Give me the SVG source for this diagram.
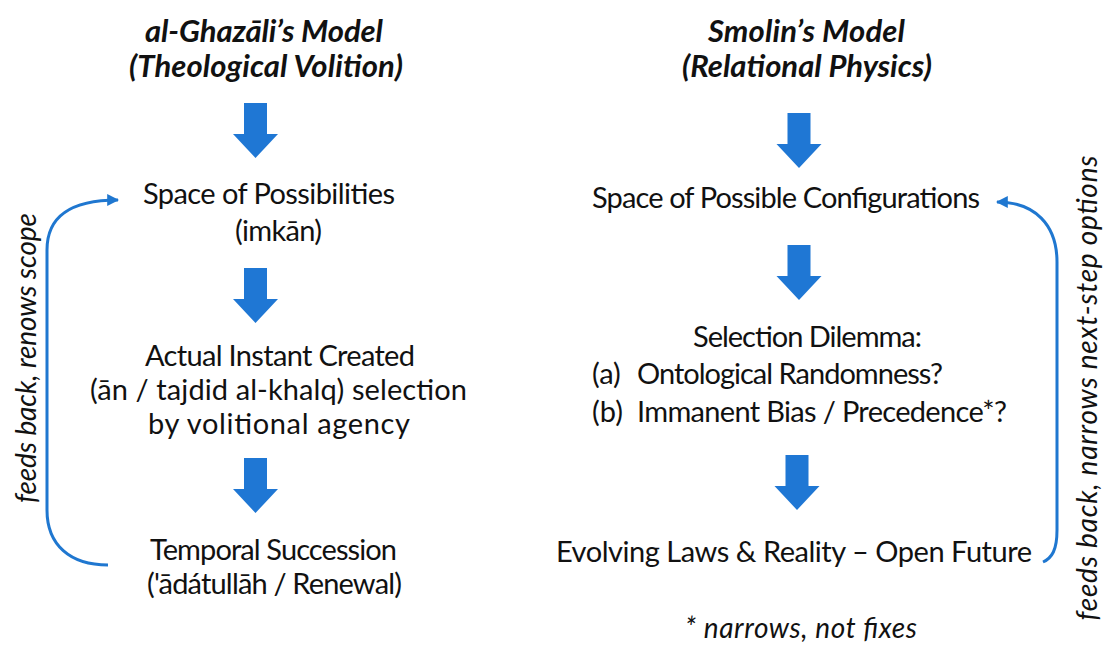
<svg xmlns="http://www.w3.org/2000/svg" width="1106" height="646" viewBox="0 0 1106 646">
  <style>
    .t { font-family: Lato, "Liberation Sans", sans-serif; fill: #111; }
    .body { font-size: 29px; }
    .title { font-size: 31px; font-weight: bold; font-style: italic; }
    .note { font-size: 28px; font-style: italic; }
    .mid { text-anchor: middle; }
    .loop { fill: none; stroke: #1F77D0; stroke-width: 3; }
    .blk { fill: #1F77D4; }
  </style>
  <defs>
    <path id="blk" class="blk" d="M -11.5 0 H 11.5 V 31 H 22.5 L 0 55 L -22.5 31 H -11.5 Z"/>
    <marker id="ah" viewBox="0 0 10 10" refX="9" refY="5" markerWidth="4" markerHeight="4" orient="auto" markerUnits="strokeWidth">
      <path d="M 0 0 L 10 5 L 0 10 Z" fill="#1F77D0"/>
    </marker>
  </defs>
  <rect width="1106" height="646" fill="#ffffff"/>

  <g id="title-left">
    <text class="t title mid" x="264" y="42" textLength="238">al-Ghazāli’s Model</text>
    <text class="t title mid" x="266" y="77" textLength="274">(Theological Volition)</text>
  </g>
  <g id="title-right">
    <text class="t title mid" x="806.5" y="42" textLength="197">Smolin’s Model</text>
    <text class="t title mid" x="807" y="77" textLength="250">(Relational Physics)</text>
  </g>

  <g id="node-possibilities">
    <text class="t body mid" x="269" y="204" textLength="252">Space of Possibilities</text>
    <text class="t body mid" x="278.5" y="241" textLength="87">(imkān)</text>
  </g>
  <g id="node-instant">
    <text class="t body mid" x="280" y="366" textLength="270">Actual Instant Created</text>
    <text class="t body mid" x="278.5" y="400" textLength="377">(ān / tajdid al-khalq) selection</text>
    <text class="t body mid" x="279" y="434" textLength="262">by volitional agency</text>
  </g>
  <g id="node-succession">
    <text class="t body mid" x="273.5" y="560" textLength="247">Temporal Succession</text>
    <text class="t body mid" x="274.5" y="594" textLength="255">('ādátullāh / Renewal)</text>
  </g>

  <g id="node-configurations">
    <text class="t body mid" x="786" y="208" textLength="388">Space of Possible Configurations</text>
  </g>
  <g id="node-dilemma">
    <text class="t body mid" x="807.5" y="347" textLength="229">Selection Dilemma:</text>
    <text class="t body" x="592" y="384">(a)</text>
    <text class="t body" x="637" y="384" textLength="306">Ontological Randomness?</text>
    <text class="t body" x="592" y="422">(b)</text>
    <text class="t body" x="637" y="422" textLength="370">Immanent Bias / Precedence*?</text>
  </g>
  <g id="node-evolving">
    <text class="t body mid" x="794" y="562" textLength="476">Evolving Laws &amp; Reality – Open Future</text>
  </g>
  <g id="footnote">
    <text class="t note mid" x="801" y="638" textLength="232">* narrows, not fixes</text>
  </g>

  <g id="connectors">
    <use href="#blk" x="255.5" y="103"/>
    <use href="#blk" x="255.5" y="268"/>
    <use href="#blk" x="255.5" y="458"/>
    <use href="#blk" x="799" y="113"/>
    <use href="#blk" x="799" y="245"/>
    <use href="#blk" x="797" y="455"/>
    <path class="loop" marker-end="url(#ah)" d="M 108 565 C 70 565 47 545 47 510 L 47 250 C 47 218 68 200 118 200"/>
    <path class="loop" marker-end="url(#ah)" d="M 1043 562 C 1052 558 1057 550 1057 530 L 1057 262 C 1057 225 1035 202 997 202"/>
    <text class="t note mid" transform="translate(36 358) rotate(-90)" textLength="290">feeds back, renows scope</text>
    <text class="t note mid" transform="translate(1097 388) rotate(-90)" textLength="465">feeds back, narrows next-step options</text>
  </g>
</svg>
